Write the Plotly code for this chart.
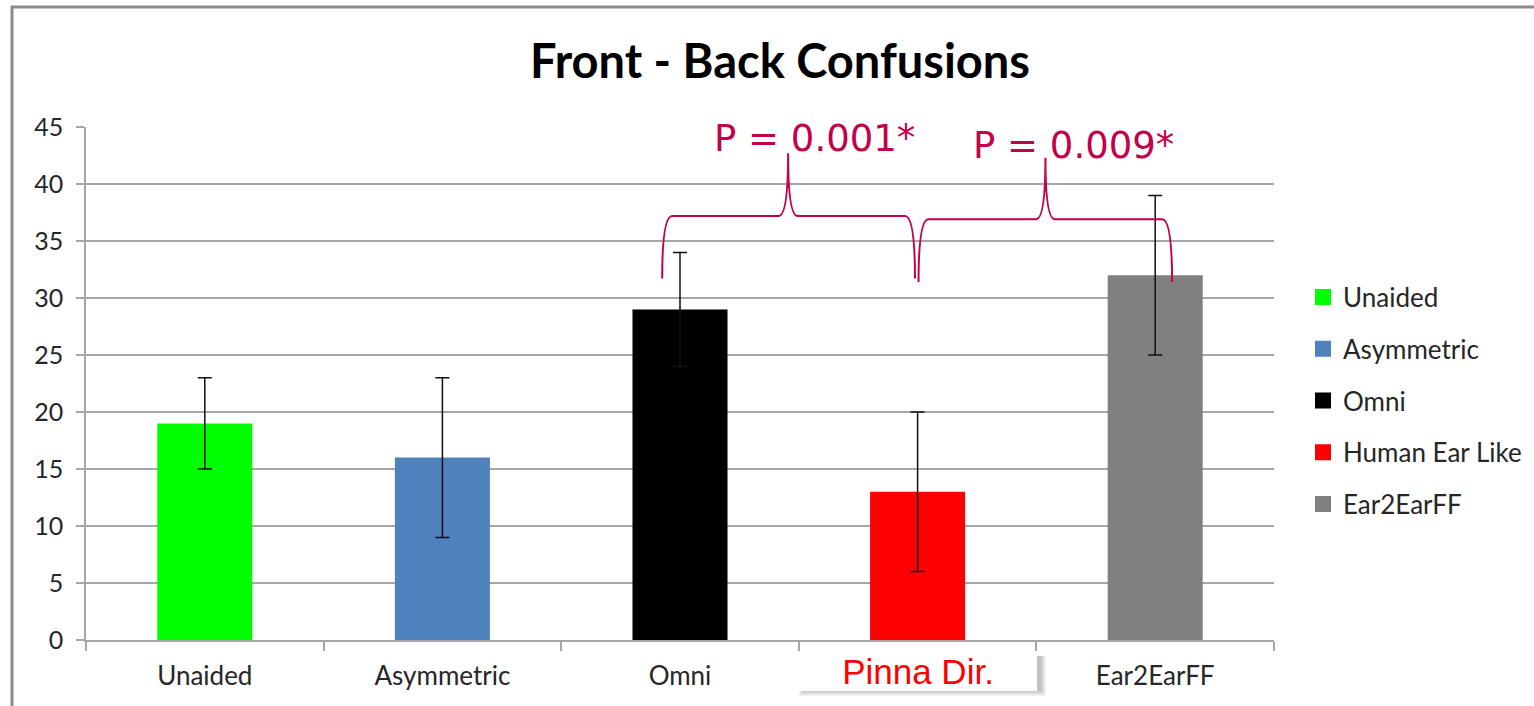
import plotly.graph_objects as go

# Chart data
categories = ["Unaided", "Asymmetric", "Omni", "Human Ear Like", "Ear2EarFF"]
tick_labels = ["Unaided", "Asymmetric", "Omni", "", "Ear2EarFF"]
confusions = [19, 16, 29, 13, 32]
error_sd = [4, 7, 5, 7, 7]
bar_colors = ["#00FF00", "#4F81BD", "#000000", "#FF0000", "#808080"]

# Pairwise significance brackets: (from category, to category, label)
comparisons = [(2, 3, "P = 0.001*"), (3, 4, "P = 0.009*")]

W, H = 1534, 706
ML, MR, MT, MB = 86, 260, 127, 66
PW, PH = W - ML - MR, H - MT - MB

ACCENT = "#C5004A"
GRID = "#A6A6A6"
TEXT = "#262626"

fig = go.Figure()

for i, (cat, val, err, col) in enumerate(zip(categories, confusions, error_sd, bar_colors)):
    fig.add_trace(go.Bar(
        x=[i], y=[val], width=0.4, marker=dict(color=col, line=dict(width=0)),
        error_y=dict(type="data", array=[err], visible=True, color="#111111",
                     thickness=1.5, width=7),
        showlegend=False, name=cat,
    ))
    # legend entry with a larger square swatch
    fig.add_trace(go.Scatter(
        x=[None], y=[None], mode="markers", name=cat, legendgroup=cat,
        marker=dict(symbol="square", size=16, color=col),
    ))


def brace_path(x0, x1, xm, yb, yh, yt, dx=0.042, d2=0.04):
    return (f"M {x0},{yb} Q {x0},{yh} {x0 + dx},{yh} "
            f"L {xm - d2},{yh} Q {xm},{yh} {xm},{yt} "
            f"Q {xm},{yh} {xm + d2},{yh} "
            f"L {x1 - dx},{yh} Q {x1},{yh} {x1},{yb}")


brace_geom = [
    dict(x0=1.925, x1=2.989, xm=2.455, yb=31.7, yh=37.2, yt=42.7, tx=2.567, ty=43.95),
    dict(x0=3.004, x1=4.071, xm=3.538, yb=31.4, yh=36.9, yt=42.3, tx=3.658, ty=43.35),
]
for (a, b, label), g in zip(comparisons, brace_geom):
    fig.add_shape(type="path", xref="x", yref="y",
                  path=brace_path(g["x0"], g["x1"], g["xm"], g["yb"], g["yh"], g["yt"]),
                  line=dict(color=ACCENT, width=2))
    fig.add_annotation(x=g["tx"], y=g["ty"], xref="x", yref="y", text=label,
                       showarrow=False, yanchor="middle", xanchor="center",
                       font=dict(family="DejaVu Sans", size=37, color=ACCENT))

# Outer chart frame
fig.add_shape(type="rect", xref="paper", yref="paper",
              x0=(12 - ML) / PW, x1=(W + 20 - ML) / PW,
              y0=(MT + PH - (H + 20)) / PH, y1=(MT + PH - 7) / PH,
              line=dict(color="#8C8C8C", width=3), fillcolor="rgba(0,0,0,0)")

# Relabelled category box with a soft shadow
bx0, bx1, by0, by1 = 802, 1040, 652, 691
for k in range(1, 7):
    fig.add_shape(type="rect", xref="paper", yref="paper",
                  x0=(bx0 + 3 - k - ML) / PW, x1=(bx1 + k - ML) / PW,
                  y0=(MT + PH - (by1 - 1 + k)) / PH, y1=(MT + PH - (by0 + 4)) / PH,
                  line=dict(width=0), fillcolor="rgba(0,0,0,0.045)", layer="above")
fig.add_annotation(x=3, y=(MT + PH - (by0 + by1) / 2) / PH, xref="x", yref="paper",
                   xanchor="center", yanchor="middle",
                   text="Pinna Dir.", showarrow=False, width=bx1 - bx0,
                   height=by1 - by0, bgcolor="white", borderpad=0, borderwidth=0,
                   font=dict(family="Liberation Sans, Arial", size=35, color="#FF0000"))

fig.update_layout(
    width=W, height=H,
    margin=dict(l=ML, r=MR, t=MT, b=MB, autoexpand=False),
    paper_bgcolor="white", plot_bgcolor="white",
    barmode="overlay",
    font=dict(family="Lato", color=TEXT),
    title=dict(text="<b>Front - Back Confusions</b>", x=780 / W, xanchor="center",
               xref="container", yref="container", y=1 - 62 / H, yanchor="middle",
               font=dict(family="Lato", size=47, color="#000000")),
    showlegend=True,
    legend=dict(x=(1303 - ML) / PW, xanchor="left", y=(MT + PH - 401) / PH, yanchor="middle",
                font=dict(family="Lato", size=26, color=TEXT), itemsizing="trace",
                tracegroupgap=15, traceorder="grouped", bgcolor="rgba(0,0,0,0)"),
    xaxis=dict(range=[-0.5, 4.5], tickmode="array", tickvals=list(range(5)),
               ticktext=tick_labels, ticks="", showgrid=False, zeroline=False,
               showline=True, linecolor=GRID, linewidth=1.5,
               tickfont=dict(family="Lato", size=26, color=TEXT), ticklabelstandoff=12,
               minor=dict(tickmode="array", tickvals=[-0.5, 0.5, 1.5, 2.5, 3.5, 4.5],
                          ticks="outside", ticklen=9, tickcolor=GRID, tickwidth=1.5),
               fixedrange=True),
    yaxis=dict(range=[0, 45], tickmode="linear", tick0=0, dtick=5, showgrid=True,
               gridcolor=GRID, gridwidth=1.5, zeroline=False, showline=True,
               linecolor=GRID, linewidth=1.5, ticks="outside", ticklen=8,
               tickcolor=GRID, tickwidth=1.5,
               tickfont=dict(family="Lato", size=25, color=TEXT), ticklabelstandoff=8,
               fixedrange=True),
)

fig.write_html("out.html", config={"displayModeBar": False})
